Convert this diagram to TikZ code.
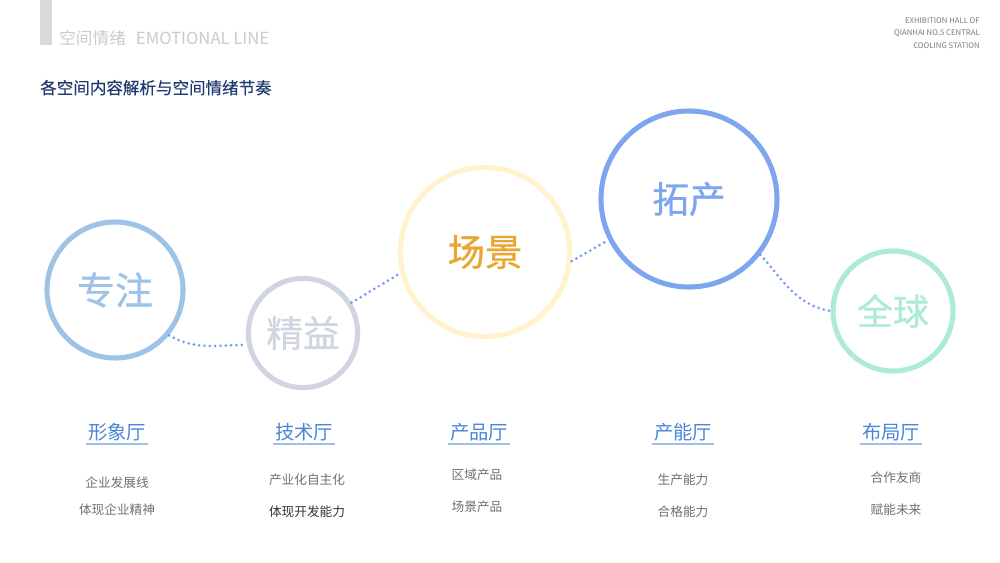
\documentclass[tikz,border=0pt]{standalone}
\usepackage{fontspec}
\setmainfont{Noto Sans CJK SC}
\newfontfamily\cjk{Noto Sans CJK SC}
\newfontfamily\cjkb{Noto Sans CJK SC}[FakeBold=0.8]
\newfontfamily\cjkm{Noto Sans CJK SC}[FakeBold=0.4]
\definecolor{barg}{HTML}{D9D9D9}
\definecolor{headg}{HTML}{CBCBCB}
\definecolor{navy}{HTML}{1F3A6E}
\definecolor{topg}{HTML}{7A7A7A}
\definecolor{cA}{HTML}{9DC3E6}
\definecolor{cB}{HTML}{D0D5E1}
\definecolor{cC}{HTML}{FFF2CC}
\definecolor{cCt}{HTML}{EBA632}
\definecolor{cD}{HTML}{7EA6F0}
\definecolor{cE}{HTML}{AEEBD7}
\definecolor{dotc}{HTML}{6F9AF0}
\definecolor{labc}{HTML}{4A86D6}
\definecolor{ulc}{HTML}{9DBFE8}
\definecolor{smg}{HTML}{707070}
\definecolor{smd}{HTML}{333333}
\tikzset{
  ring/.style={circle, draw, line width=3.8pt, inner sep=0pt},
  dotline/.style={dotc, line width=2.2pt, line cap=round, dash pattern=on 0pt off 4pt},
  hall/.style={font=\cjk\fontsize{14.5}{16}\selectfont, text=labc, inner sep=1pt},
  small/.style={font=\cjk\fontsize{9.5}{11}\selectfont, text=smg, inner sep=0pt},
}
\begin{document}
\begin{tikzpicture}[x=0.75pt,y=-0.75pt]
\useasboundingbox (0,0) rectangle (1000,563);
\fill[white] (0,0) rectangle (1000,563);
% header
\fill[barg] (40,0) rectangle (52,45) coordinate (barcorner);
\node[anchor=base west, inner sep=0pt, text=headg, font=\cjk\fontsize{12.5}{14}\selectfont] (head) at (59,45) {空间情绪\hspace{0.6em}EMOTIONAL LINE};
\node[anchor=base west, inner sep=0pt, text=navy, font=\cjkm\fontsize{12.4}{14}\selectfont] (title) at (40,94) {各空间内容解析与空间情绪节奏};
\node[anchor=north east, inner sep=0pt, align=right, text=topg, font=\cjk\fontsize{5.8}{9.6}\selectfont] (topr) at (980,17) {EXHIBITION HALL OF\\QIANHAI NO.5 CENTRAL\\COOLING STATION};
% circles
\node[ring, draw=cA, text=cA, minimum size=102pt, font=\cjkb\fontsize{28.5}{30}\selectfont] (a) at (115,290) {专注};
\node[ring, draw=cB, text=cB, minimum size=82pt, font=\cjkb\fontsize{27.5}{29}\selectfont] (b) at (303,333) {精益};
\node[ring, draw=cC, text=cCt, minimum size=127pt, font=\cjkb\fontsize{28}{30}\selectfont] (c) at (485,252) {场景};
\node[ring, draw=cD, text=cD, minimum size=132pt, font=\cjkb\fontsize{27.5}{29}\selectfont] (d) at (689,199) {拓产};
\node[ring, draw=cE, text=cE, minimum size=90pt, font=\cjkb\fontsize{27}{29}\selectfont] (e) at (893,311) {全球};
% connectors
\draw[dotline] (a.-40) to[out=-30,in=180] (b.192);
\draw[dotline] (b.32) -- (c.194);
\draw[dotline] (c.-6) -- (d.207);
\draw[dotline] (d.-38) to[out=-48,in=170] (e.180);
% hall labels
\foreach \n/\x/\t in {h1/117/形象厅, h2/304/技术厅, h3/479/产品厅, h4/683/产能厅, h5/891/布局厅}{
  \node[hall] (\n) at (\x,432) {\t};
  \draw[ulc, line width=1.2pt] ([yshift=-1pt]\n.south west) -- ([yshift=-1pt]\n.south east);
}
% small texts
\node[small] (s11) at (117,483) {企业发展线};
\node[small] (s12) at (117,510) {体现企业精神};
\node[small] (s21) at (307,480) {产业化自主化};
\node[small, text=smd] (s22) at (307,512) {体现开发能力};
\node[small] (s31) at (477,475) {区域产品};
\node[small] (s32) at (477,507) {场景产品};
\node[small] (s41) at (683,480) {生产能力};
\node[small] (s42) at (683,512) {合格能力};
\node[small] (s51) at (896,478) {合作友商};
\node[small] (s52) at (896,510) {赋能未来};
\end{tikzpicture}
\end{document}
